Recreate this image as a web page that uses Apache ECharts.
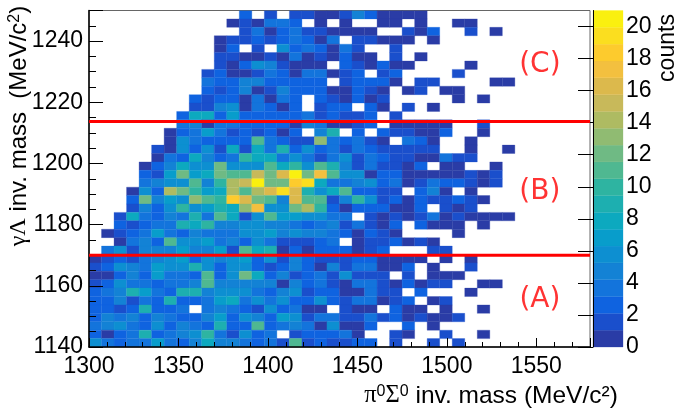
<!DOCTYPE html>
<html><head><meta charset="utf-8">
<style>html,body{margin:0;padding:0;background:#fff}#c{width:680px;height:414px}</style>
<script src="https://cdn.jsdelivr.net/npm/echarts@6/dist/echarts.min.js"></script>
</head><body><div id="c"></div>
<script>
const xMin=1300,xMax=1580,yMin=1140,yMax=1250,nBins=40;
const xTickLabels=[1300,1350,1400,1450,1500,1550];
const yTickLabels=[1140,1160,1180,1200,1220,1240];
const cutLow=1170, cutHigh=1213.7;
const regionLabels=[['(C)',1552,1232.2],['(B)',1552,1190.8],['(A)',1552,1155.3]];
const colorBands=['#2a3ca6','#1a4fcc','#0f63e0','#1374dc','#1382d5','#0d8fd1','#089dcb','#0ca9bf','#1dafb0','#2eb4a1','#4fb891','#6fba84','#90bb72','#aebb62','#c8b95a','#dcb94c','#f3c03f','#fdcb2d','#fbde1f','#faf00f'];
const zRange=21;
// counts per bin: first list is the top row, each list runs left to right; 0 = empty bin
const counts=[
[0,0,0,0,0,0,0,0,0,0,0,0,3,0,2,0,2,2,1,1,2,5,3,1,1,1,1],
[0,0,0,0,0,0,0,0,0,0,0,1,2,1,4,4,3,0,1,0,1,0,0,1,1,0,1,0,0,1,1],
[0,0,0,0,0,0,0,0,0,0,0,0,2,4,1,3,4,2,2,1,1,1,1,0,0,2,1,3,0,0,2,0,1],
[0,0,0,0,0,0,0,0,0,0,1,2,2,3,2,3,4,3,1,4,0,2,2,1,1,1,0,1],
[0,0,0,0,0,0,0,0,0,0,1,3,0,2,0,6,3,4,3,1,4,2,0,0,2],
[0,0,0,0,0,0,0,0,0,0,2,2,1,1,2,1,4,1,2,1,3,1,1,0,2,0,1],
[0,0,0,0,0,0,0,0,0,0,2,1,3,6,5,2,1,1,1,0,3,2,1,3,1,1,0,0,0,0,1],
[0,0,0,0,0,0,0,0,0,2,3,1,1,2,4,3,1,4,4,1,2,3,0,2,3,0,0,0,0,2],
[0,0,0,0,0,0,0,0,0,4,3,3,5,5,3,3,3,3,3,0,2,3,3,3,1,0,2,2,0,0,0,0,1,1],
[0,0,0,0,0,0,0,0,0,3,2,3,5,1,2,5,3,3,3,1,1,3,2,1,0,1,2,0,1,1],
[0,0,0,0,0,0,0,0,3,2,3,3,1,4,1,4,3,0,3,2,1,3,1,2,0,0,0,0,0,1,0,1],
[0,0,0,0,0,0,0,0,2,2,5,6,1,4,3,1,3,0,2,3,3,0,3,1,0,2,0,1],
[0,0,0,0,0,0,0,3,8,8,3,7,3,3,3,3,3,4,2,3,2,2,3,0,2],
[0,0,0,0,0,0,0,4,5,1,4,4,3,3,3,3,1,5,4,1,1,2,3,0,1,1,1,1,1,0,0,2],
[0,0,0,0,0,0,1,3,4,7,4,2,3,2,3,1,3,0,5,9,0,3,0,3,2,2,1,1,3,0,0,1],
[0,0,0,0,0,0,1,6,4,3,3,3,3,12,4,3,2,2,14,4,3,4,2,1,0,4,3,1,0,0,1],
[0,0,0,0,0,2,1,6,3,6,2,8,2,8,4,9,3,6,3,4,2,4,3,2,2,2,2,2,0,0,1,0,0,1],
[0,0,0,0,0,1,4,3,8,5,3,4,10,8,8,4,6,4,2,4,6,2,4,3,2,2,1,1,4,2,2],
[0,0,0,0,1,3,5,8,6,6,13,6,6,6,12,8,10,6,12,9,5,2,4,2,2,1,3,0,1,1,0,0,1],
[0,0,0,0,3,2,7,13,7,8,13,11,11,16,13,17,21,13,18,11,6,6,1,3,3,1,1,1,1,1,2,1,2],
[0,0,0,0,4,5,6,6,11,5,10,15,16,21,13,13,19,20,8,4,4,5,6,3,4,1,2,4,3,3,2,1,2],
[0,0,0,1,6,3,15,13,10,7,8,15,12,15,17,20,17,9,6,8,12,3,3,2,2,0,3,5,1,0,1],
[0,0,0,3,13,5,7,6,14,11,10,19,17,13,11,5,17,11,11,2,5,10,6,2,3,1,3,2,2,3,2,1],
[0,0,0,2,5,3,6,10,6,7,9,8,14,18,6,6,13,15,10,3,1,3,3,3,1,1,3,0,2,1,2],
[0,0,2,8,4,3,5,4,9,4,12,8,2,6,11,7,7,6,6,4,4,0,2,1,2,1,2,4,1,2,1,1,1,1],
[0,0,3,2,3,4,4,9,8,10,5,5,6,6,5,5,4,3,4,5,2,4,2,1,3,0,3,1,1,1,0,1],
[0,1,2,3,4,7,4,3,5,4,4,4,6,6,7,5,6,5,5,4,3,1,3,2,1,0,0,0,0,1],
[0,0,1,4,5,3,12,6,6,7,4,5,3,6,4,2,2,2,3,4,0,1,2,2,3,1,2,1],
[0,4,6,2,5,5,5,7,5,5,7,2,12,8,9,1,3,1,3,3,3,1,2,3,0,0,0,2,2],
[1,2,3,2,4,5,6,7,3,6,5,6,7,3,6,2,5,3,2,2,2,3,3,1,1,1,1,0,1,0,1],
[2,3,6,5,4,7,6,6,9,6,3,6,6,3,2,3,5,3,1,5,2,4,4,1,1,3,0,1,0,0,2],
[1,1,3,5,3,7,4,4,3,11,3,6,13,8,3,5,2,3,4,2,6,2,2,2,0,2,0,1,1,1],
[2,3,6,4,4,3,4,4,5,11,5,5,5,5,5,1,5,3,4,2,1,4,4,2,1,3,1,2,2,0,0,1,1],
[3,4,5,9,7,4,3,9,9,5,6,6,6,4,3,5,6,2,3,3,1,1,4,2,2,0,3,0,0,0,1],
[3,3,5,2,4,3,9,3,3,4,7,8,4,6,4,6,3,3,6,3,2,4,4,1,2,3,0,1,2],
[3,3,2,3,9,3,3,4,0,4,5,4,3,2,6,3,4,1,1,0,2,1,1,0,3,1,1,0,1,0,0,1],
[3,5,4,5,3,5,4,3,3,5,7,3,6,5,3,7,6,2,4,4,2,2,4,2,3,1,2,1,1,2],
[4,5,6,4,3,6,3,5,4,3,9,3,3,11,3,4,5,4,1,6,1,1,3,0,0,3,0,1],
[3,1,3,4,9,3,4,5,6,10,4,2,6,3,4,0,2,3,3,3,4,1,0,0,2,1,0,0,2,0,0,1],
[6,4,3,4,4,7,4,3,5,8,5,5,4,3,4,2,11,2,3,2,2,3,3,0,2,0,0,2,0,2]
];
const dx=(xMax-xMin)/nBins, dy=(yMax-yMin)/nBins;
const cells=[];
counts.forEach((row,j)=>row.forEach((v,i)=>{ if(v>0) cells.push([xMin+i*dx,yMax-(j+1)*dy,v]); }));
const bandStep=zRange/colorBands.length;
const bandOf=v=>Math.min(colorBands.length-1,Math.floor((v-0.5)/bandStep));
const FONT='"Liberation Sans",Arial,sans-serif';
const chart=echarts.init(document.getElementById('c'),null,{renderer:'canvas'});
function rectItem(p,x0,y0,x1,y1,color){
  const a=p.coord([x0,y1]),b=p.coord([x1,y0]);
  return {type:'rect',shape:{x:a[0],y:a[1],width:b[0]-a[0],height:b[1]-a[1]},style:{fill:color,stroke:color,lineWidth:0.3}};
}
chart.setOption({
  animation:false,
  grid:[
    {left:89,top:10.5,width:501,height:336.5,show:true,borderColor:'#666',borderWidth:1,backgroundColor:'#fff'},
    {left:593,top:10.5,width:30,height:336.5}
  ],
  xAxis:[
    {gridIndex:0,type:'value',min:xMin,max:xMax,interval:50,z:5,
     axisLine:{show:true,lineStyle:{color:'#000',width:1.5}},
     axisTick:{show:true,inside:true,length:9,lineStyle:{color:'#000'}},
     minorTick:{show:true,splitNumber:5,length:5,lineStyle:{color:'#000'}},
     splitLine:{show:false},
     axisLabel:{color:'#000',fontFamily:FONT,fontSize:23,margin:8,showMaxLabel:false,
       formatter:v=>xTickLabels.includes(v)?String(v):''}},
    {gridIndex:1,type:'value',min:0,max:1,show:false}
  ],
  yAxis:[
    {gridIndex:0,type:'value',min:yMin,max:yMax,interval:20,z:5,
     axisLine:{show:true,lineStyle:{color:'#000',width:1.5}},
     axisTick:{show:true,inside:true,length:14,lineStyle:{color:'#000'}},
     minorTick:{show:true,splitNumber:4,length:7,lineStyle:{color:'#000'}},
     splitLine:{show:false},
     axisLabel:{color:'#000',fontFamily:FONT,fontSize:23,margin:6,
       formatter:v=>yTickLabels.includes(v)?String(v):''}},
    {gridIndex:1,type:'value',position:'right',min:0,max:zRange,interval:2,z:5,
     axisLine:{show:true,lineStyle:{color:'#000',width:1}},
     axisTick:{show:true,inside:true,length:15,lineStyle:{color:'#000'}},
     splitLine:{show:false},
     axisLabel:{color:'#000',fontFamily:FONT,fontSize:23,margin:3,padding:[4,0,0,0],showMaxLabel:false}}
  ],
  series:[
    {type:'custom',xAxisIndex:0,yAxisIndex:0,z:1,clip:true,silent:true,data:cells,
     encode:{x:0,y:1},
     renderItem:(params,p)=>rectItem(p,p.value(0),p.value(1),p.value(0)+dx,p.value(1)+dy,colorBands[bandOf(p.value(2))])},
    {type:'custom',xAxisIndex:1,yAxisIndex:1,z:1,silent:true,data:colorBands.map((c,i)=>[i]),
     encode:{y:0},
     renderItem:(params,p)=>{const i=p.value(0);return rectItem(p,0,i*bandStep,1,(i+1)*bandStep,colorBands[i]);}},
    {type:'line',xAxisIndex:0,yAxisIndex:0,z:6,symbol:'none',silent:true,data:[[xMin,cutLow],[xMax,cutLow]],lineStyle:{color:'#ff0000',width:3}},
    {type:'line',xAxisIndex:0,yAxisIndex:0,z:6,symbol:'none',silent:true,data:[[xMin,cutHigh],[xMax,cutHigh]],lineStyle:{color:'#ff0000',width:3}},
    {type:'scatter',xAxisIndex:0,yAxisIndex:0,z:7,symbolSize:0,silent:true,
     data:regionLabels.map(r=>({value:[r[1],r[2]],name:r[0]})),
     label:{show:true,position:'inside',formatter:'{b}',color:'#ff0000',fontFamily:'"DejaVu Sans",sans-serif',fontSize:28}}
  ],
  graphic:[
    {type:'text',x:491,y:396,z:10,style:{
      text:'{g|π}{s|0}{g|Σ}{s|0}{t| inv. mass (MeV/c²)}',align:'center',verticalAlign:'middle',
      rich:{g:{fontFamily:'"Liberation Serif",serif',fontSize:24.5,fill:'#000',color:'#000'},
            s:{fontFamily:FONT,fontSize:16,verticalAlign:'top',padding:[0,0,8,0],fill:'#000',color:'#000'},
            t:{fontFamily:FONT,fontSize:24.5,fill:'#000',color:'#000'}}}},
    {type:'text',x:19,y:126,rotation:Math.PI/2,z:10,style:{
      text:'{g|γΛ}{t| inv. mass  (MeV/c}{s|2}{t|)}',align:'center',verticalAlign:'middle',
      rich:{g:{fontFamily:'"Liberation Serif",serif',fontSize:24,fill:'#000',color:'#000'},
            s:{fontFamily:FONT,fontSize:16,verticalAlign:'top',padding:[0,0,8,0],fill:'#000',color:'#000'},
            t:{fontFamily:FONT,fontSize:24,fill:'#000',color:'#000'}}}},
    {type:'text',x:668,y:48,rotation:Math.PI/2,z:10,style:{
      text:'counts',align:'center',verticalAlign:'middle',fontFamily:FONT,fontSize:23,fill:'#000'}}
  ]
});
</script></body></html>
